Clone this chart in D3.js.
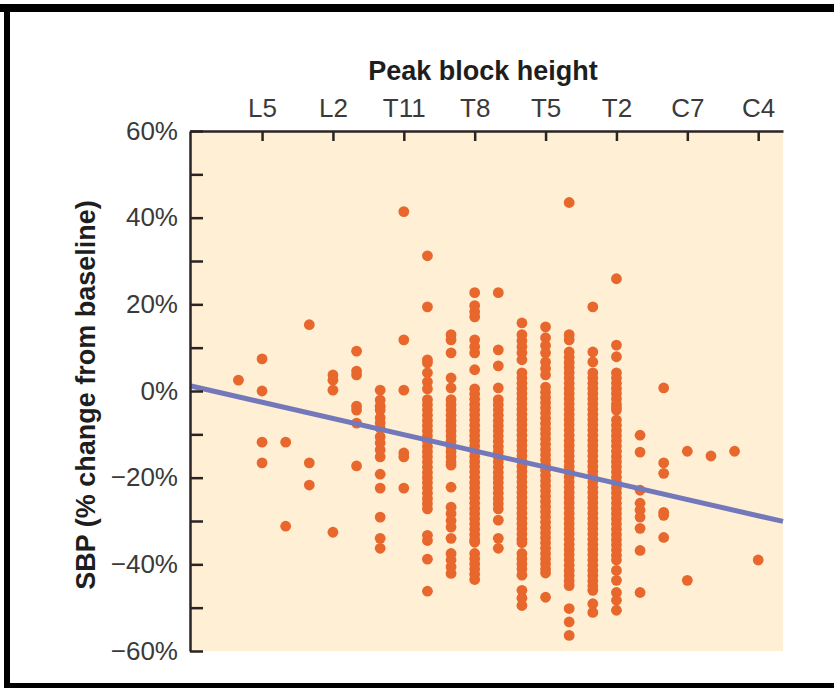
<!DOCTYPE html>
<html>
<head>
<meta charset="utf-8">
<script src="https://cdn.jsdelivr.net/npm/d3@7"></script>
<style>
  html, body { margin: 0; padding: 0; background: #ffffff; }
  svg { display: block; }
</style>
</head>
<body>
<svg id="chart" width="834" height="688"></svg>
<script>
// ---------------- DATA ----------------
// vertebral levels (index 0 = L5), -1 = S1
const levelNames = ["S1","L5","L4","L3","L2","L1","T12","T11","T10","T9","T8","T7","T6","T5","T4","T3","T2","T1","C8","C7","C6","C5","C4"];
const levelIndex = [-1,0,1,2,3,4,5,6,7,8,9,10,11,12,13,14,15,16,17,18,19,20,21];

// SBP % change from baseline, one list per level
const S1  = [2.5];
const L5  = [7.4, 0, -11.8, -16.6];
const L4  = [-11.8, -31.2];
const L3  = [15.3, -16.6, -21.7];
const L2  = [3.7, 2.5, 0.2, -32.6];
const L1  = [9.2, 4.6, 3.7, -3.5, -4.4, -7.4, -17.3];
const T12 = [0.2, -2.1, -3.5, -4.4, -6.2, -7.4, -8.6, -10.6, -12, -13.6, -15.2, -19.2, -22.4, -29.1, -34, -36.3];
const T11 = [41.4, 11.8, 0.2, -14.3, -15.2, -22.4];
const T10 = [31.2, 19.4, 7.2, 6.5, 4.2, 2.1, 0.5, -2, -3.2, -4.4, -5.6, -6.8, -8, -9.2, -10.4, -11.6, -12.8, -14, -15.2, -16.4, -17.6, -18.8, -20, -21.2, -22.4, -23.6, -24.8, -26, -27.2, -33.3, -34.5, -38.8, -46.2];
const T9  = [13, 11.8, 8.8, 3, 0.7, -2, -3.2, -4.4, -5.6, -6.8, -8, -9.2, -10.4, -11.6, -12.8, -14, -15.2, -16.4, -17.1, -22.2, -26.8, -28.3, -29.9, -31.4, -34, -37.5, -39, -40.6, -42.1];
const T8  = [22.7, 19.7, 18.3, 17.1, 11.8, 10.2, 8.8, 4.9, 0.5, -0.7, -1.9, -3.1, -4.3, -5.5, -6.7, -7.9, -9.1, -10.3, -11.5, -12.7, -13.9, -15.1, -16.3, -17.5, -18.7, -19.9, -21.1, -22.3, -23.5, -24.7, -25.9, -27.1, -28.3, -29.5, -30.7, -31.9, -33.1, -34.3, -34.9, -37.5, -38.7, -39.9, -41.1, -42.3, -43.5];
const T7  = [22.7, 9.5, 5.8, 0.7, -2, -3.2, -4.4, -5.6, -6.8, -8, -9.2, -10.4, -11.6, -12.8, -14, -15.2, -16.4, -17.6, -18.8, -20, -21.2, -22.4, -23.6, -24.8, -26, -27.2, -29.8, -34, -36.3];
const T6  = [15.7, 13, 11.6, 10.2, 8.8, 7.2, 4.2, 3, 1.8, 0.6, -0.6, -1.8, -3, -4.2, -5.4, -6.6, -7.8, -9, -10.2, -11.4, -12.6, -13.8, -15, -16.2, -17.4, -18.6, -19.8, -21, -22.2, -23.4, -24.6, -25.8, -27, -28.2, -29.4, -30.6, -31.8, -33, -34.2, -35, -37.5, -38.7, -39.9, -41.1, -42.5, -46, -47.8, -49.5];
const T5  = [14.8, 12.3, 10.5, 8.8, 6.7, 5.2, 3.7, 0.9, -0.3, -1.5, -2.7, -3.9, -5.1, -6.3, -7.5, -8.7, -9.9, -11.1, -12.3, -13.5, -14.7, -15.9, -17.1, -18.3, -19.5, -20.7, -21.9, -23.1, -24.3, -25.5, -26.7, -27.9, -29.1, -30.3, -31.5, -32.7, -33.9, -35.1, -36.3, -37.5, -38.7, -39.9, -41.1, -42, -47.6];
const T4  = [43.5, 13, 11.8, 9, 7.8, 6.6, 5.4, 4.2, 3, 1.8, 0.6, -0.6, -1.8, -3, -4.2, -5.4, -6.6, -7.8, -9, -10.2, -11.4, -12.6, -13.8, -15, -16.2, -17.4, -18.6, -19.8, -21, -22.2, -23.4, -24.6, -25.8, -27, -28.2, -29.4, -30.6, -31.8, -33, -34.2, -35.4, -36.6, -37.8, -39, -40.2, -41.4, -42.6, -43.8, -44.9, -50.2, -53.3, -56.4];
const T3  = [19.4, 9, 6.7, 4.2, 3, 1.8, 0.6, -0.6, -1.8, -3, -4.2, -5.4, -6.6, -7.8, -9, -10.2, -11.4, -12.6, -13.8, -15, -16.2, -17.4, -18.6, -19.8, -21, -22.2, -23.4, -24.6, -25.8, -27, -28.2, -29.4, -30.6, -31.8, -33, -34.2, -35.4, -36.6, -37.8, -39, -40.2, -41.4, -42.6, -43.8, -45, -46, -49.1, -51.1];
const T2  = [25.9, 10.6, 7.9, 4.2, 3, 1.8, 0.6, -0.6, -1.8, -3, -3.7, -4.4, -6.7, -7.9, -9.1, -10.3, -11.5, -12.7, -13.9, -15.1, -16.3, -17.5, -18.7, -19.9, -21.1, -22.3, -23.5, -24.7, -25.9, -27.1, -28.3, -29.5, -30.7, -31.9, -33.1, -34.3, -35.5, -36.7, -37.9, -39, -41.4, -43.7, -46.5, -48.3, -50.6];
const T1  = [-10.2, -14.1, -22.9, -25.9, -27.5, -29.1, -31.7, -36.8, -46.5];
const C8  = [0.7, -16.6, -19, -28, -28.7, -33.8];
const C7  = [-13.9, -43.7];
const C6  = [-15];
const C5  = [-13.9];
const C4  = [-39];
const levelValues = [S1, L5, L4, L3, L2, L1, T12, T11, T10, T9, T8, T7, T6, T5, T4, T3, T2, T1, C8, C7, C6, C5, C4];

// axis ticks
const xTickIndex  = [0, 3, 6, 9, 12, 15, 18, 21];
const xTickLabels = ["L5", "L2", "T11", "T8", "T5", "T2", "C7", "C4"];
const yTickValues = [-60, -50, -40, -30, -20, -10, 0, 10, 20, 30, 40, 50, 60];
const yTickLabels = ["\u221260%", "", "\u221240%", "", "\u221220%", "", "0%", "", "20%", "", "40%", "", "60%"];

// fitted regression line (endpoints at plot edges)
const trendIndex = [-3.05, 22.05];
const trendValue = [1.2, -30.1];

// ---------------- CHART ----------------
const svg = d3.select("#chart");
const plot = { left: 190, right: 783, top: 131, bottom: 651 };

const x = d3.scaleLinear().domain([-3.05, 22.05]).range([plot.left, plot.right]);
const y = d3.scaleLinear().domain([-60, 60]).range([plot.bottom, plot.top]);

// frame
svg.append("rect").attr("x", 0).attr("y", 4).attr("width", 834).attr("height", 8).attr("fill", "#000");
svg.append("rect").attr("x", 4).attr("y", 4).attr("width", 6).attr("height", 684).attr("fill", "#000");
svg.append("rect").attr("x", 4).attr("y", 683).attr("width", 830).attr("height", 5).attr("fill", "#000");

// background
svg.append("rect")
  .attr("x", plot.left).attr("y", plot.top)
  .attr("width", plot.right - plot.left).attr("height", plot.bottom - plot.top)
  .attr("fill", "#feefd5");

// points
const points = [];
levelValues.forEach((vals, i) => vals.forEach(v => points.push({ lvl: levelIndex[i], v })));
svg.append("g").selectAll("circle").data(points).join("circle")
  .attr("cx", d => x(d.lvl))
  .attr("cy", d => y(d.v))
  .attr("r", 5.4)
  .attr("fill", "#e8672c");

// trend line
const trend = trendIndex.map((t, i) => ({ t, v: trendValue[i] }));
svg.append("path").datum(trend)
  .attr("d", d3.line().x(d => x(d.t)).y(d => y(d.v)))
  .attr("stroke", "#7378bb").attr("stroke-width", 5).attr("fill", "none");

// top axis
const xAxis = d3.axisTop(x)
  .tickValues(xTickIndex)
  .tickFormat((d, i) => xTickLabels[i])
  .tickSizeInner(-10).tickSizeOuter(0).tickPadding(14);
const gx = svg.append("g").attr("transform", `translate(0,${plot.top})`).call(xAxis);
gx.select(".domain").attr("stroke", "#2a2522").attr("stroke-width", 2.5);
gx.selectAll(".tick line").attr("stroke", "#2a2522").attr("stroke-width", 2.5);
gx.selectAll(".tick text").attr("font-family", "'Liberation Sans', Arial, sans-serif")
  .attr("font-size", 26).attr("fill", "#3a3a3a");

// left axis
const yAxis = d3.axisLeft(y)
  .tickValues(yTickValues)
  .tickFormat((d, i) => yTickLabels[i])
  .tickSizeInner(-13).tickSizeOuter(0).tickPadding(12);
const gy = svg.append("g").attr("transform", `translate(${plot.left},0)`).call(yAxis);
gy.select(".domain").attr("stroke", "#2a2522").attr("stroke-width", 2.5);
gy.selectAll(".tick line").attr("stroke", "#2a2522").attr("stroke-width", 2.5);
gy.selectAll(".tick text").attr("font-family", "'Liberation Sans', Arial, sans-serif")
  .attr("font-size", 26).attr("fill", "#3a3a3a");

// titles
svg.append("text")
  .attr("x", 483).attr("y", 80)
  .attr("text-anchor", "middle")
  .attr("font-family", "'Liberation Sans', Arial, sans-serif")
  .attr("font-weight", "bold").attr("font-size", 27).attr("fill", "#1e1e1e")
  .text("Peak block height");

svg.append("text")
  .attr("transform", "translate(95,395) rotate(-90)")
  .attr("text-anchor", "middle")
  .attr("font-family", "'Liberation Sans', Arial, sans-serif")
  .attr("font-weight", "bold").attr("font-size", 27).attr("fill", "#1e1e1e")
  .text("SBP (% change from baseline)");
</script>
</body>
</html>
